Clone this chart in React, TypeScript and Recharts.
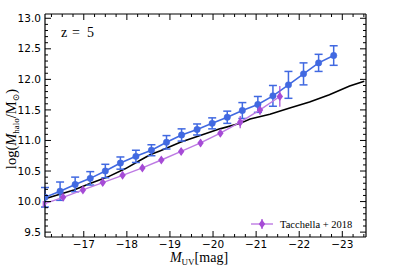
import React from 'react';
import { ComposedChart, Line, XAxis, YAxis, ErrorBar } from 'recharts';

// binned relation (blue)
const blueMuv = [-16.1, -16.45, -16.8, -17.15, -17.5, -17.85, -18.21, -18.57, -18.92, -19.27, -19.63, -19.98, -20.33, -20.68, -21.04, -21.39, -21.75, -22.1, -22.45, -22.8];
const blueLogM = [10.07, 10.17, 10.28, 10.38, 10.5, 10.63, 10.74, 10.84, 10.97, 11.09, 11.18, 11.28, 11.38, 11.49, 11.59, 11.73, 11.91, 12.09, 12.27, 12.39];
const blueErr = [0.16, 0.15, 0.12, 0.11, 0.11, 0.1, 0.1, 0.09, 0.11, 0.1, 0.09, 0.09, 0.1, 0.13, 0.13, 0.17, 0.22, 0.18, 0.14, 0.16];

// Tacchella+ 2018
const tacMuv = [-16.06, -16.52, -16.98, -17.44, -17.9, -18.36, -18.8, -19.26, -19.71, -20.17, -20.63, -21.09, -21.55];
const tacLogM = [9.96, 10.07, 10.19, 10.31, 10.43, 10.55, 10.68, 10.82, 10.96, 11.12, 11.3, 11.5, 11.72];
const tacErr = [0.05, 0.05, 0.05, 0.05, 0.05, 0.05, 0.05, 0.05, 0.06, 0.06, 0.1, 0.08, 0.17];

// simulation curve (black)
const simMuv = [-16.12, -16.77, -17.16, -17.55, -17.97, -18.32, -18.55, -18.78, -19.24, -19.7, -20.16, -20.63, -20.86, -21.32, -21.78, -22.24, -22.7, -23.17, -23.51];
const simLogM = [10.05, 10.19, 10.3, 10.4, 10.54, 10.68, 10.77, 10.83, 10.97, 11.08, 11.19, 11.28, 11.35, 11.43, 11.53, 11.63, 11.75, 11.89, 11.97];

const xDomain = [-23.55, -16.1];
const yDomain = [9.42, 13.07];

const xTicks: number[] = [];
for (let k = -94; k <= -65; k++) xTicks.push(k * 0.25);
const yTicks: number[] = [];
for (let k = 95; k <= 130; k++) yTicks.push(k / 10);

const BLUE = '#4169e1';
const PURPLE = '#a64bd6';
const PURPLE_LINE = '#bd7ae3';
const tickFont = '"DejaVu Sans", sans-serif';
const serif = '"Liberation Serif", "DejaVu Serif", serif';

const blueData = blueMuv.map((m, i) => ({ muv: m, logM: blueLogM[i], err: blueErr[i] }));
const tacData = tacMuv.map((m, i) => ({ muv: m, logM: tacLogM[i], err: tacErr[i] }));
const simData = simMuv.map((m, i) => ({ muv: m, logM: simLogM[i] }));

const XTick = (props: any) => {
  const { x, y, payload, side } = props;
  const v = payload.value;
  const major = Math.abs(v - Math.round(v)) < 1e-6;
  const len = major ? 6 : 3;
  const dir = side === 'bottom' ? -1 : 1;
  return (
    <g>
      <line x1={x} y1={y} x2={x} y2={y + dir * len} stroke="#000" strokeWidth={1} />
      {side === 'bottom' && major && (
        <text x={x} y={y + 4} dy="0.71em" textAnchor="middle" fontFamily={tickFont} fontSize={10.5} fill="#000">
          {'\u2212' + Math.abs(Math.round(v))}
        </text>
      )}
    </g>
  );
};

const YTick = (props: any) => {
  const { x, y, payload, side } = props;
  const v = payload.value;
  const major = Math.round(v * 10) % 5 === 0;
  const len = major ? 6 : 3;
  const dir = side === 'left' ? 1 : -1;
  return (
    <g>
      <line x1={x} y1={y} x2={x + dir * len} y2={y} stroke="#000" strokeWidth={1} />
      {side === 'left' && major && (
        <text x={x - 4} y={y} dy="0.35em" textAnchor="end" fontFamily={tickFont} fontSize={10.5} fill="#000">
          {v.toFixed(1)}
        </text>
      )}
    </g>
  );
};

const Diamond = (props: any) => {
  const { cx, cy } = props;
  if (cx == null || cy == null) return null;
  return <polygon points={`${cx},${cy - 4.5} ${cx + 3.2},${cy} ${cx},${cy + 4.5} ${cx - 3.2},${cy}`} fill={PURPLE} />;
};

export default function App() {
  return (
    <div style={{ position: 'absolute', left: 0, top: 0, width: 407, height: 271, background: '#fff' }}>
      <ComposedChart width={407} height={271} margin={{ top: 13, right: 40, bottom: 33, left: 44 }}>
        <XAxis
          xAxisId={0}
          dataKey="muv"
          type="number"
          domain={xDomain}
          reversed
          allowDataOverflow
          ticks={xTicks}
          interval={0}
          height={1}
          tickSize={0}
          tickMargin={0}
          tick={<XTick side="bottom" />}
          axisLine={{ stroke: '#000', strokeWidth: 1.2 }}
        />
        <XAxis
          xAxisId="top"
          orientation="top"
          dataKey="muv"
          type="number"
          domain={xDomain}
          reversed
          allowDataOverflow
          ticks={xTicks}
          interval={0}
          height={1}
          tickSize={0}
          tickMargin={0}
          tick={<XTick side="top" />}
          axisLine={{ stroke: '#000', strokeWidth: 1.2 }}
        />
        <YAxis
          yAxisId={0}
          type="number"
          domain={yDomain}
          allowDataOverflow
          ticks={yTicks}
          interval={0}
          width={1}
          tickSize={0}
          tickMargin={0}
          tick={<YTick side="left" />}
          axisLine={{ stroke: '#000', strokeWidth: 1.2 }}
        />
        <YAxis
          yAxisId="right"
          orientation="right"
          type="number"
          domain={yDomain}
          allowDataOverflow
          ticks={yTicks}
          interval={0}
          width={1}
          tickSize={0}
          tickMargin={0}
          tick={<YTick side="right" />}
          axisLine={{ stroke: '#000', strokeWidth: 1.2 }}
        />
        <Line
          data={simData}
          dataKey="logM"
          type="linear"
          stroke="#000"
          strokeWidth={1.6}
          dot={false}
          isAnimationActive={false}
        />
        <Line
          data={blueData}
          dataKey="logM"
          type="linear"
          stroke={BLUE}
          strokeWidth={1.6}
          dot={{ r: 3.2, fill: BLUE, stroke: BLUE, strokeWidth: 0.5 }}
          isAnimationActive={false}
        >
          <ErrorBar dataKey="err" direction="y" width={4} stroke={BLUE} strokeWidth={1.5} />
        </Line>
        <Line
          data={tacData}
          dataKey="logM"
          type="linear"
          stroke={PURPLE_LINE}
          strokeWidth={1.4}
          dot={<Diamond />}
          isAnimationActive={false}
          name="Tacchella+ 2018"
        >
          <ErrorBar dataKey="err" direction="y" width={0} stroke={PURPLE} strokeWidth={1.2} />
        </Line>
      </ComposedChart>
      <svg width={407} height={271} style={{ position: 'absolute', left: 0, top: 0, pointerEvents: 'none' }}>
        <text fontFamily={serif} fontSize={14} fill="#000" y={37}>
          <tspan x={61}>z</tspan>
          <tspan x={72}>=</tspan>
          <tspan x={87}>5</tspan>
        </text>
        <g transform="translate(249,216)">
          <line x1={2} y1={8} x2={24} y2={8} stroke={PURPLE_LINE} strokeWidth={1.4} />
          <line x1={13} y1={3} x2={13} y2={13} stroke={PURPLE} strokeWidth={1.2} />
          <polygon points="13,3.5 16.2,8 13,12.5 9.8,8" fill={PURPLE} />
          <text x={31} y={12} fontFamily={serif} fontSize={10.5} fill="#000">Tacchella +  2018</text>
        </g>
        <text x={199} y={262} textAnchor="middle" fontFamily={serif} fontSize={14} fill="#000">
          <tspan fontStyle="italic">M</tspan>
          <tspan fontSize={9} dy={3}>UV</tspan>
          <tspan dy={-3}>[mag]</tspan>
        </text>
        <g transform="translate(16,129) rotate(-90)">
          <text x={0} y={0} textAnchor="middle" fontFamily={serif} fontSize={14.5} fill="#000">
            <tspan>log(</tspan>
            <tspan fontStyle="italic">M</tspan>
            <tspan fontSize={9} dy={3}>halo</tspan>
            <tspan dy={-3}>/M</tspan>
            <tspan fontSize={9} dy={3}>{'\u2299'}</tspan>
            <tspan dy={-3}>)</tspan>
          </text>
        </g>
      </svg>
    </div>
  );
}
